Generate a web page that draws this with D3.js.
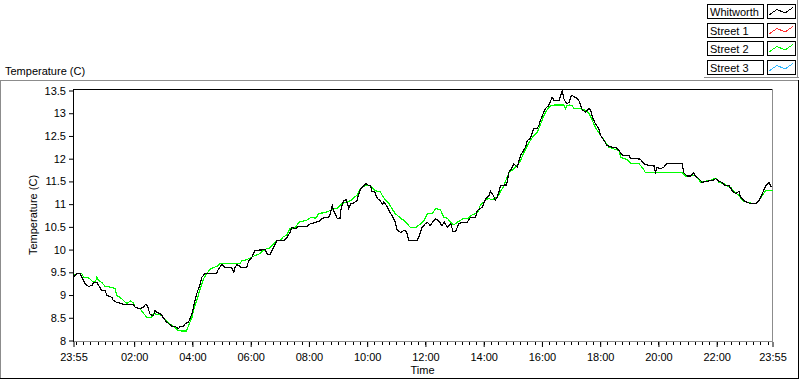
<!DOCTYPE html>
<html><head><meta charset="utf-8">
<script src="https://cdn.jsdelivr.net/npm/d3@7"></script>
<style>
html,body{margin:0;padding:0;background:#fff;}
svg{display:block;font-family:"Liberation Sans",Arial,sans-serif;font-size:11px;}
</style></head>
<body>
<svg id="chart" width="800" height="380"></svg>
<script>
// ---- data (minutes after 23:55, temperature °C) ----
const whitworthMinutes = [0,7,14,17,24,31,38,41,48,54,58,65,69,79,82,89,100,103,124,127,137,144,148,152,158,165,168,172,179,182,189,196,203,209,216,220,227,230,237,244,247,254,261,264,271,278,295,299,306,312,326,330,333,337,347,357,361,367,374,395,398,405,409,416,419,433,440,446,450,457,464,481,488,494,
499,509,512,526,529,533,536,543,549,550,553,557,562,567,571,578,584,588,591,598,602,608,612,615,620,626,632,636,639,645,650,656,663,667,674,681,686,691,708,711,718,725,729,735,739,746,753,759,764,770,777,782,787,794,801,811,818,828,832,842,849,856,859,865,869,873,880,887,892,897,904,907,914,921,931,935,941,948,952,955,959,962,
966,972,979,986,990,1000,1007,1010,1014,1017,1021,1024,1027,1034,1041,1045,1048,1055,1062,1065,1069,1075,1082,1086,1093,1099,1110,1117,1124,1130,1144,1148,1168,1175,1185,1196,1199,1202,1209,1216,1223,1254,1257,1264,1271,1277,1281,1288,1295,1302,1316,1323,1330,1336,1340,1350,1357,1364,1371,1374,1384,1395,1405,1412,1419,1426,1433,1436,1440];
const whitworthTemp = [9.39,9.47,9.48,9.39,9.25,9.19,9.21,9.28,9.28,9.17,9.10,9.10,8.99,8.95,8.88,8.84,8.81,8.79,8.79,8.73,8.70,8.73,8.79,8.77,8.57,8.55,8.66,8.62,8.59,8.55,8.44,8.37,8.31,8.31,8.26,8.31,8.31,8.37,8.40,8.59,8.73,9.03,9.25,9.39,9.47,9.48,9.48,9.58,9.67,9.60,9.60,9.50,9.61,9.67,9.60,9.61,9.76,9.82,9.98,10.00,9.91,9.89,9.98,10.13,10.20,10.20,10.27,10.38,10.49,10.46,10.51,10.51,10.57,10.58,
10.60,10.64,10.69,10.71,10.79,10.97,10.86,10.69,10.69,10.82,10.97,11.08,11.10,10.91,11.01,11.03,11.08,11.23,11.32,11.41,11.45,11.41,11.40,11.28,11.28,11.12,11.08,10.99,11.04,10.97,10.86,10.75,10.60,10.42,10.38,10.42,10.40,10.20,10.20,10.27,10.49,10.57,10.60,10.53,10.59,10.68,10.62,10.53,10.60,10.49,10.57,10.40,10.40,10.57,10.60,10.60,10.71,10.71,10.86,10.93,11.12,11.19,11.28,11.19,11.09,11.15,11.41,11.42,11.42,11.70,11.81,11.89,11.81,12.07,12.25,12.40,12.44,12.66,12.67,12.66,12.74,12.84,
12.95,13.10,13.17,13.35,13.28,13.28,13.50,13.32,13.24,13.21,13.24,13.35,13.39,13.35,13.28,13.17,13.08,13.02,13.10,13.08,12.91,12.77,12.66,12.51,12.40,12.29,12.25,12.25,12.18,12.08,12.07,12.01,11.99,11.89,11.85,11.84,11.70,11.81,11.78,11.81,11.90,11.90,11.69,11.62,11.62,11.69,11.62,11.56,11.48,11.50,11.52,11.56,11.50,11.48,11.42,11.41,11.30,11.23,11.28,11.15,11.06,11.01,11.01,11.08,11.23,11.41,11.48,11.40,11.37];

const street2Minutes = [0,7,17,21,31,38,45,48,52,58,65,79,86,89,96,103,110,117,124,127,137,144,151,161,165,175,182,189,196,206,216,223,233,237,244,247,254,261,268,275,282,295,302,343,347,354,361,374,381,391,398,405,412,419,426,433,439,446,457,464,474,481,488,494,
499,505,519,529,536,543,553,560,571,578,584,591,598,612,619,626,632,636,643,650,656,663,674,681,687,694,705,711,722,729,739,746,756,759,763,770,777,784,790,797,804,814,818,828,835,838,845,849,856,862,873,880,887,893,897,907,914,921,928,935,941,948,955,962,
969,976,983,990,1010,1014,1017,1021,1027,1031,1045,1055,1062,1069,1075,1086,1096,1103,1117,1124,1127,1141,1148,1165,1175,1178,1254,1261,1271,1278,1285,1292,1299,1312,1323,1330,1340,1347,1354,1360,1371,1378,1391,1405,1412,1419,1426,1440];
const street2Temp = [9.43,9.47,9.47,9.39,9.38,9.31,9.28,9.39,9.32,9.28,9.19,9.17,9.14,8.99,8.95,8.88,8.81,8.87,8.82,8.73,8.70,8.60,8.51,8.51,8.59,8.57,8.55,8.45,8.38,8.31,8.22,8.21,8.21,8.33,8.51,8.66,8.88,9.14,9.36,9.48,9.58,9.63,9.69,9.69,9.76,9.77,9.80,9.87,9.89,9.98,10.02,10.04,10.13,10.20,10.21,10.29,10.31,10.46,10.49,10.60,10.63,10.65,10.70,10.70,
10.69,10.79,10.82,10.86,10.91,10.91,11.01,11.04,11.08,11.15,11.19,11.34,11.40,11.41,11.32,11.28,11.28,11.19,11.08,11.01,10.90,10.79,10.69,10.64,10.57,10.49,10.49,10.53,10.64,10.79,10.79,10.90,10.88,10.79,10.71,10.69,10.60,10.54,10.60,10.64,10.69,10.69,10.75,10.79,10.86,10.98,11.04,11.10,11.12,11.10,11.15,11.28,11.41,11.59,11.69,11.78,11.85,11.96,12.14,12.29,12.40,12.51,12.58,12.75,
12.95,13.08,13.16,13.18,13.18,13.10,13.17,13.18,13.17,13.10,13.10,13.06,12.99,12.84,12.69,12.51,12.36,12.25,12.20,12.18,12.03,11.98,11.89,11.89,11.76,11.69,11.69,11.62,11.62,11.64,11.59,11.48,11.50,11.52,11.57,11.48,11.45,11.40,11.37,11.28,11.19,11.08,11.03,11.01,11.08,11.19,11.30,11.30];

const seriesNames = ["Whitworth","Street 1","Street 2","Street 3"];
const seriesColors = ["#000000","#ff3030","#00ff00","#30b8ff"];

const yTicks = [8,8.5,9,9.5,10,10.5,11,11.5,12,12.5,13,13.5];
const xTickMinutes = [0,125,245,365,485,605,725,845,965,1085,1205,1325,1440];
const xTickLabels = ["23:55","02:00","04:00","06:00","08:00","10:00","12:00","14:00","16:00","18:00","20:00","22:00","23:55"];
const xMinorStart = 5, xMinorStep = 15, xTotal = 1440;

// ---- drawing ----
const svg = d3.select("#chart");
const L = 73, R = 772, T = 89, B = 341;
const x = d3.scaleLinear().domain([0, xTotal]).range([L + 0.5, R + 0.5]);
const y = d3.scaleLinear().domain([8, 13.5]).range([340.5, 90.5]);

// outer panel frame
svg.append("line").attr("x1",0).attr("x2",798).attr("y1",80.5).attr("y2",80.5).attr("stroke","#8c8c8c");
svg.append("line").attr("x1",0.5).attr("x2",0.5).attr("y1",80).attr("y2",379).attr("stroke","#8c8c8c");
svg.append("line").attr("x1",0).attr("x2",799).attr("y1",378.5).attr("y2",378.5).attr("stroke","#000");
svg.append("line").attr("x1",798.5).attr("x2",798.5).attr("y1",80).attr("y2",379).attr("stroke","#000");

// legend panel edges
svg.append("line").attr("x1",704).attr("x2",799).attr("y1",77.5).attr("y2",77.5).attr("stroke","#8c8c8c");
svg.append("line").attr("x1",797.5).attr("x2",797.5).attr("y1",0).attr("y2",78).attr("stroke","#8c8c8c");

// title
svg.append("text").attr("x",5).attr("y",75).text("Temperature (C)");

// plot frame
svg.append("line").attr("x1",L+0.5).attr("x2",R+0.5).attr("y1",T+0.5).attr("y2",T+0.5).attr("stroke","#000");
svg.append("line").attr("x1",R+0.5).attr("x2",R+0.5).attr("y1",T).attr("y2",B+1).attr("stroke","#8c8c8c");
svg.append("line").attr("x1",L).attr("x2",R+1).attr("y1",B+0.5).attr("y2",B+0.5).attr("stroke","#8c8c8c");
svg.append("line").attr("x1",L+0.5).attr("x2",L+0.5).attr("y1",T).attr("y2",B+1).attr("stroke","#000");

// y axis
const yAxis = d3.axisLeft(y).tickValues(yTicks).tickSize(4).tickPadding(3)
  .tickFormat(d => d3.format("~g")(d));
const gy = svg.append("g").attr("transform",`translate(${L},0)`).call(yAxis);
gy.select(".domain").remove();
gy.selectAll("text").attr("font-family",'"Liberation Sans",Arial,sans-serif').attr("font-size",11).attr("fill","#000");
gy.selectAll("line").attr("stroke","#000");

// x axis: minor ticks
const minor = d3.range(xMinorStart, xTotal, xMinorStep);
svg.append("g").selectAll("line").data(minor).join("line")
  .attr("x1",d=>Math.round(x(d))+0.5).attr("x2",d=>Math.round(x(d))+0.5)
  .attr("y1",B+1).attr("y2",B+4).attr("stroke","#000");
const xAxis = d3.axisBottom(x).tickValues(xTickMinutes).tickSize(5).tickPadding(6)
  .tickFormat((d,i) => xTickLabels[i]);
const gx = svg.append("g").attr("transform",`translate(0,${B+1})`).call(xAxis);
gx.select(".domain").remove();
gx.selectAll("text").attr("font-family",'"Liberation Sans",Arial,sans-serif').attr("font-size",11).attr("fill","#000");
gx.selectAll("line").attr("stroke","#000");

// axis titles
svg.append("text").attr("x",(L+R)/2).attr("y",374).attr("text-anchor","middle").text("Time");
svg.append("text").attr("transform",`translate(37,${(T+B)/2}) rotate(-90)`).attr("text-anchor","middle").text("Temperature (C)");

// lines
const line = d3.line().x(d=>x(d[0])).y(d=>y(d[1]));
svg.append("clipPath").attr("id","pc").append("rect").attr("x",L+1).attr("y",T).attr("width",R-L).attr("height",B-T+1);
const plot = svg.append("g").attr("clip-path","url(#pc)");
plot.append("path").datum(d3.zip(street2Minutes, street2Temp))
  .attr("d",line).attr("fill","none").attr("stroke",seriesColors[2]).attr("stroke-width",1.2)
  .attr("shape-rendering","crispEdges");
plot.append("path").datum(d3.zip(whitworthMinutes, whitworthTemp))
  .attr("d",line).attr("fill","none").attr("stroke",seriesColors[0]).attr("stroke-width",1.2)
  .attr("shape-rendering","crispEdges");

// legend
const lg = svg.append("g");
seriesNames.forEach((name,i) => {
  const top = 4 + i*18.6;
  const ty = Math.round(top) + 0.5;
  lg.append("rect").attr("x",707.5).attr("y",ty).attr("width",56).attr("height",14)
    .attr("fill","#fff").attr("stroke","#000");
  lg.append("text").attr("x",710).attr("y",ty+11).text(name);
  lg.append("rect").attr("x",767.5).attr("y",ty).attr("width",28).attr("height",14)
    .attr("fill","#fff").attr("stroke","#000");
  const pts = [[769,ty+10.5],[777,ty+5],[785,ty+8.5],[793,ty+3]];
  lg.append("path").attr("d",d3.line()(pts)).attr("fill","none").attr("stroke",seriesColors[i])
    .attr("shape-rendering","crispEdges");
});
</script>
</body></html>
